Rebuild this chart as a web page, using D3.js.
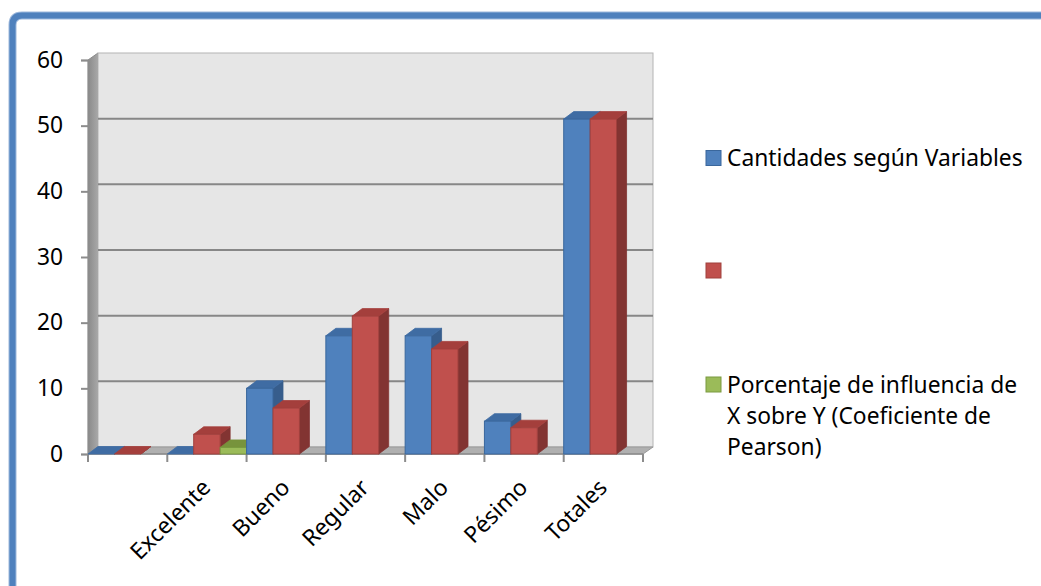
<!DOCTYPE html>
<html>
<head>
<meta charset="utf-8">
<script src="https://cdn.jsdelivr.net/npm/d3@7"></script>
<style>
  html, body { margin: 0; padding: 0; background: #ffffff; }
  svg { display: block; }
  text { font-family: "Noto Sans", "Open Sans", sans-serif; fill: #000; }
</style>
</head>
<body>
<div id="chart"></div>
<script>
// ---------- data ----------
const categories = ["", "Excelente", "Bueno", "Regular", "Malo", "Pésimo", "Totales"];
const seriesNames = ["Cantidades según Variables", "", "Porcentaje de influencia de X sobre Y (Coeficiente de Pearson)"];
const blueValues  = [0, 0, 10, 18, 18, 5, 51];
const redValues   = [0, 3, 7, 21, 16, 4, 51];
const greenValues = [null, 1, null, null, null, null, null];
const yTickValues = [0, 10, 20, 30, 40, 50, 60];
const legendLines = [
  ["Cantidades según Variables"],
  [""],
  ["Porcentaje de influencia de", "X sobre Y (Coeficiente de", "Pearson)"]
];

// ---------- styling ----------
const W = 1041, H = 586;
const fontSize = 22.8;
const palette = [
  { front: "#4f81bd", top: "#3f6ca3", side: "#375d8c", stroke: "#3a679c" },
  { front: "#c0504d", top: "#a43f3c", side: "#823432", stroke: "#a0403d" },
  { front: "#9bbb59", top: "#77933c", side: "#657d33", stroke: "#7a9a40" }
];
const seriesValues = [blueValues, redValues, greenValues];
const depth = { dx: 10, dy: -7 };

const svg = d3.select("#chart").append("svg").attr("width", W).attr("height", H);

// frame border
const framePath = `M ${W + 10} 15.5 H 22 Q 12.5 15.5 12.5 25 V ${H + 10}`;
svg.append("path").attr("d", framePath).attr("fill", "none")
  .attr("stroke", "#9db8dc").attr("stroke-width", 8);
svg.append("path").attr("d", framePath).attr("fill", "none")
  .attr("stroke", "#4f81bd").attr("stroke-width", 6);

// scales
const x = d3.scaleBand().domain(categories).range([88, 643]).padding(0);
const xs = d3.scaleBand().domain(d3.range(seriesNames.length)).range([0, x.bandwidth()]).padding(0);
const y = d3.scaleLinear().domain([0, 60]).range([454, 60]);

const x0 = x.range()[0], x1 = x.range()[1];
const yBase = y(0), yTop = y(60);

// left side wall
const sideGrad = svg.append("defs").append("linearGradient").attr("id", "sideGrad")
  .attr("x1", 0).attr("x2", 1).attr("y1", 0).attr("y2", 0);
sideGrad.append("stop").attr("offset", 0).attr("stop-color", "#8a8a8a");
sideGrad.append("stop").attr("offset", 1).attr("stop-color", "#a8a8a8");
svg.append("polygon")
  .attr("points", [[x0, yTop], [x0 + depth.dx, yTop + depth.dy], [x0 + depth.dx, yBase + depth.dy], [x0, yBase]].join(" "))
  .attr("fill", "url(#sideGrad)").attr("stroke", "#8c8c8c").attr("stroke-width", 1);

// back wall
svg.append("rect")
  .attr("x", x0 + depth.dx).attr("y", yTop + depth.dy)
  .attr("width", x1 - x0).attr("height", yBase - yTop)
  .attr("fill", "#e6e6e6").attr("stroke", "#b4b4b4").attr("stroke-width", 1);

// floor
svg.append("polygon")
  .attr("points", [[x0, yBase], [x0 + depth.dx, yBase + depth.dy], [x1 + depth.dx, yBase + depth.dy], [x1, yBase]].join(" "))
  .attr("fill", "#b0b0b0").attr("stroke", "#999999").attr("stroke-width", 1);

// gridlines on back wall
svg.append("g").selectAll("line").data(yTickValues.filter(v => v > 0 && v < 60)).join("line")
  .attr("x1", x0 + depth.dx).attr("x2", x1 + depth.dx)
  .attr("y1", d => y(d) + depth.dy).attr("y2", d => y(d) + depth.dy)
  .attr("stroke", "#878787").attr("stroke-width", 2);

// y axis
const yAxis = d3.axisLeft(y).tickValues(yTickValues).tickSize(7).tickPadding(18).tickFormat(d3.format("d"));
const gy = svg.append("g").attr("transform", `translate(${x0},0)`).call(yAxis);
gy.select(".domain").attr("stroke", "#8c8c8c").attr("stroke-width", 1.5);
gy.selectAll(".tick line").attr("stroke", "#8c8c8c").attr("stroke-width", 2);
gy.selectAll(".tick text").style("font-size", fontSize + "px").style("font-family", '"Noto Sans", sans-serif').attr("fill", "#000");

// x axis baseline and boundary ticks
svg.append("line").attr("x1", x0).attr("x2", x1).attr("y1", yBase).attr("y2", yBase)
  .attr("stroke", "#8c8c8c").attr("stroke-width", 1.5);
const boundaries = categories.map(c => x(c)).concat([x1]);
svg.append("g").selectAll("line").data(boundaries).join("line")
  .attr("x1", d => d).attr("x2", d => d).attr("y1", yBase).attr("y2", yBase + 8)
  .attr("stroke", "#8c8c8c").attr("stroke-width", 2);

// bars (3D): drawn left to right
const bars = [];
categories.forEach((c, i) => {
  seriesValues.forEach((vals, s) => {
    const v = vals[i];
    if (v === null || v === undefined) return;
    bars.push({ c, s, v });
  });
});
const barDepth = { dx: 10, dy: -7.5 };
const gBars = svg.append("g");
bars.forEach(b => {
  const bx = x(b.c) + xs(b.s), bw = xs.bandwidth();
  const top = y(b.v), base = y(0);
  const col = palette[b.s];
  const g = gBars.append("g");
  g.append("polygon")
    .attr("points", [[bx + bw, top], [bx + bw + barDepth.dx, top + barDepth.dy], [bx + bw + barDepth.dx, base + barDepth.dy], [bx + bw, base]].join(" "))
    .attr("fill", col.side).attr("stroke", col.side).attr("stroke-width", 0.8);
  g.append("polygon")
    .attr("points", [[bx, top], [bx + barDepth.dx, top + barDepth.dy], [bx + bw + barDepth.dx, top + barDepth.dy], [bx + bw, top]].join(" "))
    .attr("fill", col.top).attr("stroke", col.top).attr("stroke-width", 0.8);
  if (base - top > 0) {
    g.append("rect").attr("x", bx).attr("y", top).attr("width", bw).attr("height", base - top)
      .attr("fill", col.front).attr("stroke", col.stroke).attr("stroke-width", 1);
  }
});

// x labels rotated
svg.append("g").selectAll("text").data(categories).join("text")
  .attr("transform", d => `translate(${x(d) + x.bandwidth() / 2 + 5},${489}) rotate(-45)`)
  .attr("text-anchor", "end")
  .style("font-size", fontSize + "px")
  .text(d => d);

// legend
const legendY = [158, 270.5, 384.5];
const lg = svg.append("g");
legendLines.forEach((lines, i) => {
  lg.append("rect").attr("x", 706).attr("y", legendY[i] - 7.5).attr("width", 15).attr("height", 15)
    .attr("fill", palette[i].front).attr("stroke", palette[i].stroke).attr("stroke-width", 1);
  lines.forEach((ln, j) => {
    lg.append("text").attr("x", 727).attr("y", legendY[i] + 8 + j * 31)
      .style("font-size", fontSize + "px").text(ln);
  });
});
</script>
</body>
</html>
